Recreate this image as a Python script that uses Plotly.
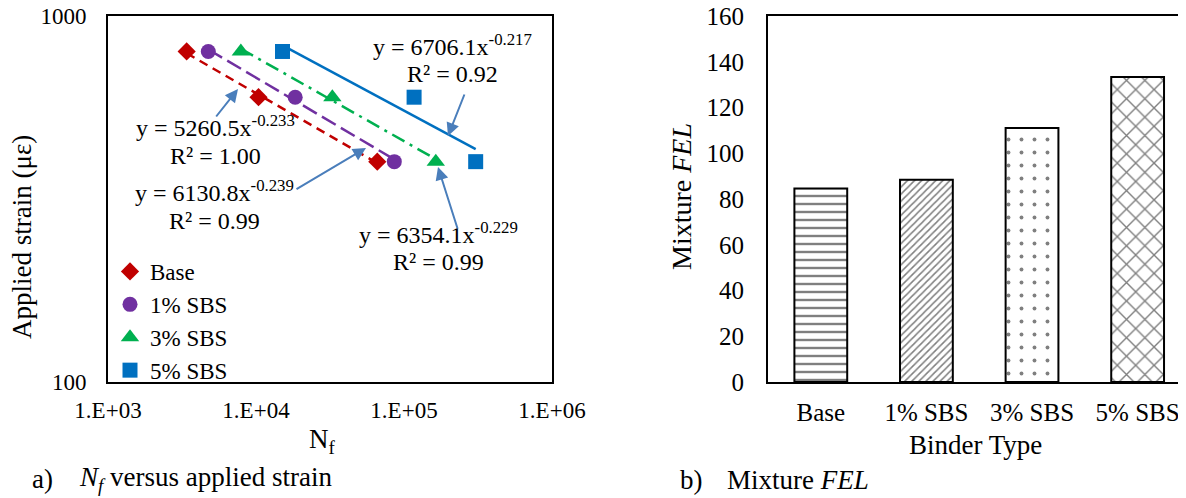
import plotly.graph_objects as go

# ---------------- data ----------------
series_names = ["Base", "1% SBS", "3% SBS", "5% SBS"]
series_colors = ["#C00000", "#7030A0", "#00B050", "#0070C0"]
series_symbols = ["diamond", "circle", "triangle-up", "square"]
marker_sizes = [14, 15, 16, 15]
line_dashes = ["9px,6px", "16px,6px", "14px,6px,3px,6px", "solid"]

strain = [800, 600, 400]
nf_base = [3400, 10400, 66000]
nf_1sbs = [4760, 18400, 86000]
nf_3sbs = [7900, 32800, 164000]
nf_5sbs = [15100, 117000, 305000]
nf_all = [nf_base, nf_1sbs, nf_3sbs, nf_5sbs]

fit_a = [5260.5, 6130.8, 6354.1, 6706.1]
fit_b = [-0.233, -0.239, -0.229, -0.217]
fit_r2 = ["1.00", "0.99", "0.99", "0.92"]

x_ticks = [1e3, 1e4, 1e5, 1e6]
x_ticktext = ["1.E+03", "1.E+04", "1.E+05", "1.E+06"]
y_ticks = [100, 1000]

binder_types = ["Base", "1% SBS", "3% SBS", "5% SBS"]
fel_values = [84.6, 88.4, 111.0, 133.3]
bar_patterns = ["-", "/", ".", "x"]
pattern_sizes = [8, 5, 13, 13]
pattern_solid = [0.3, 0.3, 0.07, 0.2]

# ---------------- figure ----------------
# the page body has an 8px default margin; the figure is sized so that
# figure + margin fills the 1186x498 window
OFF = 8
W, H = 1186 - OFF, 498 - OFF
FONT = "Liberation Serif"


def px(x):
    return (x - OFF) / W


def py(y):
    return 1 - (y - OFF) / H


def fnt(size):
    return dict(family=FONT, size=size, color="black")


fig = go.Figure()

# trend lines (power fits as printed on the chart)
for i, name in enumerate(series_names):
    xs = [min(nf_all[i]), max(nf_all[i])]
    ys = [fit_a[i] * x ** fit_b[i] for x in xs]
    fig.add_trace(go.Scatter(
        x=xs, y=ys, mode="lines", showlegend=False, hoverinfo="skip",
        line=dict(color=series_colors[i], width=2.5, dash=line_dashes[i]),
        xaxis="x", yaxis="y"))

# data points
for i, name in enumerate(series_names):
    fig.add_trace(go.Scatter(
        x=nf_all[i], y=strain, mode="markers", name=name,
        marker=dict(symbol=series_symbols[i], size=marker_sizes[i],
                    color=series_colors[i]),
        xaxis="x", yaxis="y"))

# bars
fig.add_trace(go.Bar(
    x=binder_types, y=fel_values, width=0.5, showlegend=False,
    marker=dict(color="white", line=dict(color="black", width=2),
                pattern=dict(shape=bar_patterns, fgcolor="black",
                             bgcolor="white", size=pattern_sizes,
                             solidity=pattern_solid)),
    xaxis="x2", yaxis="y2"))

ydom = [py(382), py(16)]

fig.update_layout(
    width=W, height=H,
    margin=dict(l=0, r=0, t=0, b=0, autoexpand=False),
    paper_bgcolor="white", plot_bgcolor="white",
    font=fnt(23),
    xaxis=dict(domain=[px(108), px(552)], type="log", range=[3, 6],
               tickvals=x_ticks, ticktext=x_ticktext,
               showline=True, mirror=True, linecolor="black", linewidth=2,
               showgrid=False, zeroline=False, ticks="", automargin=False,
               ticklabelstandoff=6, tickfont=fnt(23),
               ticklabeloverflow="allow", anchor="y"),
    yaxis=dict(domain=ydom, type="log", range=[2, 3],
               tickvals=y_ticks, ticktext=["100", "1000"],
               showline=True, mirror=True, linecolor="black", linewidth=2,
               showgrid=False, zeroline=False, ticks="", automargin=False,
               ticklabelstandoff=15, tickfont=fnt(23),
               ticklabeloverflow="allow", anchor="x"),
    xaxis2=dict(domain=[px(768), 1.0], range=[-0.5, 3.458],
                showline=True, mirror=True, linecolor="black", linewidth=2,
                showgrid=False, zeroline=False, ticks="", automargin=False,
                ticklabelstandoff=7, tickfont=fnt(25),
                ticklabeloverflow="allow", anchor="y2"),
    yaxis2=dict(domain=ydom, range=[0, 160], dtick=20,
                showline=True, mirror=False, linecolor="black", linewidth=2,
                showgrid=False, zeroline=False, ticks="", automargin=False,
                ticklabelstandoff=17, tickfont=fnt(25),
                ticklabeloverflow="allow", anchor="x2"),
    legend=dict(x=px(110), y=py(250), xanchor="left", yanchor="top",
                font=fnt(23), bgcolor="rgba(0,0,0,0)",
                itemwidth=30, tracegroupgap=0),
    bargap=0.5,
)

annotations = []


def txt(x, y, text, size, xanchor="center", angle=0):
    annotations.append(dict(
        x=px(x), y=py(y), xref="paper", yref="paper", text=text,
        showarrow=False, xanchor=xanchor, yanchor="middle",
        textangle=angle, font=fnt(size)))


def arrow(x0, y0, x1, y1):
    annotations.append(dict(
        x=px(x1), y=py(y1), xref="paper", yref="paper", text="",
        showarrow=True, ax=x0 - x1, ay=y0 - y1,
        arrowhead=2, arrowsize=1.3, arrowwidth=2, arrowcolor="#4A7EBB"))


# axis titles
txt(22, 237, "Applied strain (με)", 27, angle=-90)
txt(322, 441, "N<sub>f</sub>", 27)
txt(682, 197, "Mixture <i>FEL</i>", 28, angle=-90)
txt(975, 445, "Binder Type", 27)

# captions
txt(30, 479, "a)", 27, xanchor="left")
txt(77, 479, "<i>N<sub>f</sub></i> versus applied strain", 27, xanchor="left")
txt(678, 480, "b)", 27, xanchor="left")
txt(725, 480, "Mixture <i>FEL</i>", 27, xanchor="left")

# fit equations (positions of each label)
eq_pos = [(215, 126, 156), (214, 191, 221), (438, 233, 262), (452, 45, 74)]
for i in range(4):
    cx, y1, y2 = eq_pos[i]
    txt(cx, y1, f"y = {fit_a[i]:.1f}x<sup>{fit_b[i]:.3f}</sup>", 24)
    txt(cx, y2, f"R² = {fit_r2[i]}", 24)

# arrows
arrow(215, 118, 238, 89)
arrow(295, 190, 366, 148)
arrow(458, 230, 438, 167)
arrow(465, 93, 448, 136)

fig.update_layout(annotations=annotations)

fig.write_html("out.html")
